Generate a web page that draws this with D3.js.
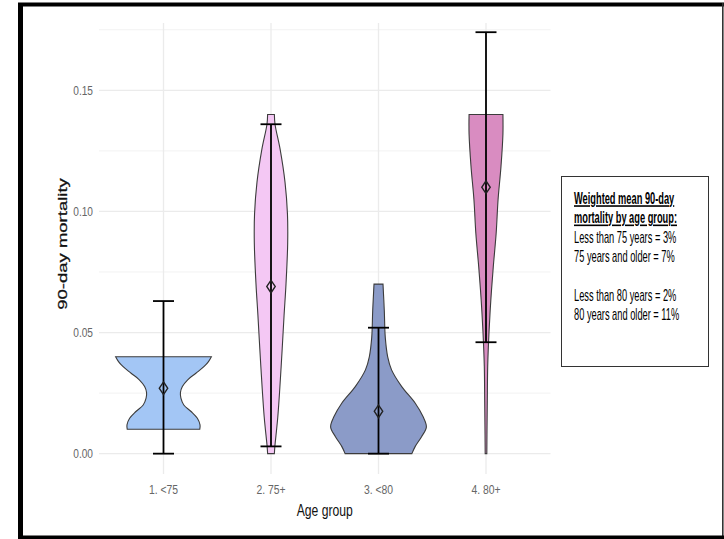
<!DOCTYPE html>
<html>
<head>
<meta charset="utf-8">
<script src="https://cdn.jsdelivr.net/npm/d3@7"></script>
<style>
  body { margin: 0; background: #fff; }
  svg { display: block; }
</style>
</head>
<body>
<script>
var categories = ['1. <75', '2. 75+', '3. <80', '4. 80+'];
var fillColors = ['#a3c6f5', '#f4c8f4', '#8b9bc8', '#d98cc1'];

var meanValues = [0.027, 0.069, 0.0175, 0.110];
var errLow = [0.000, 0.003, 0.000, 0.046];
var errHigh = [0.063, 0.136, 0.052, 0.174];

// violin outlines: [value, relative half width]
var violin1 = [[0.0101, 0.75], [0.0119, 0.755], [0.0146, 0.70], [0.0174, 0.57], [0.0201, 0.42],
  [0.0229, 0.36], [0.0252, 0.35], [0.0277, 0.39], [0.0305, 0.50], [0.0332, 0.67],
  [0.0360, 0.84], [0.0380, 0.93], [0.0400, 0.99]];
var violin2 = [[0.000, 0.07], [0.003, 0.08], [0.015, 0.14], [0.036, 0.21], [0.057, 0.27],
  [0.070, 0.31], [0.087, 0.345], [0.099, 0.34], [0.112, 0.29], [0.1255, 0.19],
  [0.136, 0.083], [0.140, 0.07]];
var violin3 = [[0.000, 0.69], [0.003, 0.76], [0.007, 0.89], [0.011, 0.99], [0.0153, 0.92],
  [0.0208, 0.76], [0.0277, 0.48], [0.0346, 0.27], [0.040, 0.19], [0.048, 0.14],
  [0.059, 0.12], [0.070, 0.093]];
var violin4 = [[0.000, 0.017], [0.008, 0.02], [0.022, 0.027], [0.036, 0.035], [0.050, 0.062],
  [0.0635, 0.10], [0.077, 0.15], [0.091, 0.21], [0.105, 0.25], [0.1186, 0.31],
  [0.132, 0.35], [0.140, 0.35]];
var violins = [violin1, violin2, violin3, violin4];

var majorTicks = [0, 0.05, 0.10, 0.15];
var minorTicks = [0.025, 0.075, 0.125, 0.175];

var legendLines = [
  { text: 'Weighted mean 90-day', bold: true },
  { text: 'mortality by age group:', bold: true },
  { text: 'Less than 75 years = 3%', bold: false },
  { text: '75 years and older = 7%', bold: false },
  { text: '', bold: false },
  { text: 'Less than 80 years = 2%', bold: false },
  { text: '80 years and older = 11%', bold: false }
];

var W = 724, H = 539;
var plot = { left: 99, right: 550.5, top: 23, bottom: 474 };

var svg = d3.select('body').append('svg')
  .attr('width', W)
  .attr('height', H);

var x = d3.scalePoint()
  .domain(categories)
  .range([plot.left, plot.right])
  .padding(0.6);

var y = d3.scaleLinear()
  .domain([-0.0084, 0.1778])
  .range([plot.bottom, plot.top]);

var halfWidth = d3.scaleLinear()
  .domain([0, 1])
  .range([0, x.step() * 0.45]);

// squeezed text, the picture is narrowed horizontally
function label(g, px, py, str, size, sx, anchor) {
  return g.append('text')
    .attr('transform', 'translate(' + px + ',' + py + ') scale(' + sx + ',1)')
    .attr('text-anchor', anchor)
    .attr('font-family', 'Liberation Sans, Arial, sans-serif')
    .attr('font-size', size)
    .text(str);
}

// grid
var grid = svg.append('g');
grid.selectAll('line.minor').data(minorTicks).enter().append('line')
  .attr('x1', plot.left).attr('x2', plot.right)
  .attr('y1', function(d) { return y(d); })
  .attr('y2', function(d) { return y(d); })
  .attr('stroke', '#f2f2f2')
  .attr('stroke-width', 1);
grid.selectAll('line.major').data(majorTicks).enter().append('line')
  .attr('x1', plot.left).attr('x2', plot.right)
  .attr('y1', function(d) { return y(d); })
  .attr('y2', function(d) { return y(d); })
  .attr('stroke', '#ebebeb')
  .attr('stroke-width', 1.3);
grid.selectAll('line.vert').data(categories).enter().append('line')
  .attr('x1', function(d) { return x(d); })
  .attr('x2', function(d) { return x(d); })
  .attr('y1', plot.top).attr('y2', plot.bottom)
  .attr('stroke', '#ebebeb')
  .attr('stroke-width', 1.3);

// axis labels
var axisG = svg.append('g').attr('fill', '#666');
majorTicks.forEach(function(t) {
  label(axisG, 93, y(t) + 4.5, d3.format('.2f')(t), 13, 0.78, 'end');
});
categories.forEach(function(c) {
  label(axisG, x(c), 494, c, 13, 0.8, 'middle');
});

var titleG = svg.append('g').attr('fill', '#111');
label(titleG, (plot.left + plot.right) / 2, 516, 'Age group', 16, 0.76, 'middle');
titleG.append('text')
  .attr('transform', 'translate(67,244) scale(0.72,1) rotate(-90)')
  .attr('text-anchor', 'middle')
  .attr('font-family', 'Liberation Sans, Arial, sans-serif')
  .attr('font-size', 18.5)
  .attr('stroke', '#111')
  .attr('stroke-width', 0.35)
  .text('90-day mortality');

// violins
var area = d3.area()
  .curve(d3.curveCatmullRom)
  .y(function(d) { return y(d[0]); });

svg.append('g').selectAll('path').data(violins).enter().append('path')
  .attr('d', function(d, i) {
    var cx = x(categories[i]);
    return area
      .x0(function(p) { return cx - halfWidth(p[1]); })
      .x1(function(p) { return cx + halfWidth(p[1]); })(d);
  })
  .attr('fill', function(d, i) { return fillColors[i]; })
  .attr('stroke', '#3c3c3c')
  .attr('stroke-width', 1.1);

// error bars
var bars = svg.append('g')
  .attr('stroke', '#000')
  .attr('stroke-width', 1.8);
categories.forEach(function(c, i) {
  var cx = x(c);
  bars.append('line')
    .attr('x1', cx).attr('x2', cx)
    .attr('y1', y(errLow[i])).attr('y2', y(errHigh[i]));
  [errLow[i], errHigh[i]].forEach(function(v) {
    bars.append('line')
      .attr('x1', cx - 10.5).attr('x2', cx + 10.5)
      .attr('y1', y(v)).attr('y2', y(v));
  });
});

// means
var diamond = d3.symbol().type(d3.symbolDiamond).size(46);
svg.append('g').selectAll('path').data(meanValues).enter().append('path')
  .attr('d', diamond)
  .attr('transform', function(d, i) {
    return 'translate(' + x(categories[i]) + ',' + y(d) + ') scale(1.15,1)';
  })
  .attr('fill', 'none')
  .attr('stroke', '#222')
  .attr('stroke-width', 1.3);

// note box
var box = svg.append('g');
box.append('rect')
  .attr('x', 561.5).attr('y', 176.5)
  .attr('width', 147).attr('height', 190)
  .attr('fill', '#fff')
  .attr('stroke', '#333')
  .attr('stroke-width', 1);
legendLines.forEach(function(l, i) {
  if (!l.text) return;
  label(box, 574, 204 + i * 19.3, l.text, 16, 0.58, 'start')
    .attr('fill', '#000')
    .attr('font-weight', l.bold ? 'bold' : 'normal')
    .attr('text-decoration', l.bold ? 'underline' : null);
});

// outer frame
var frame = svg.append('g').attr('stroke', '#000');
frame.append('line').attr('x1', 18).attr('x2', 724).attr('y1', 4.5).attr('y2', 4.5).attr('stroke-width', 4);
frame.append('line').attr('x1', 20.5).attr('x2', 20.5).attr('y1', 3).attr('y2', 539).attr('stroke-width', 5);
frame.append('line').attr('x1', 722.8).attr('x2', 722.8).attr('y1', 3).attr('y2', 539).attr('stroke-width', 1.6).attr('stroke', '#333');
frame.append('line').attr('x1', 18).attr('x2', 724).attr('y1', 537.3).attr('y2', 537.3).attr('stroke-width', 3.5);
</script>
</body>
</html>
